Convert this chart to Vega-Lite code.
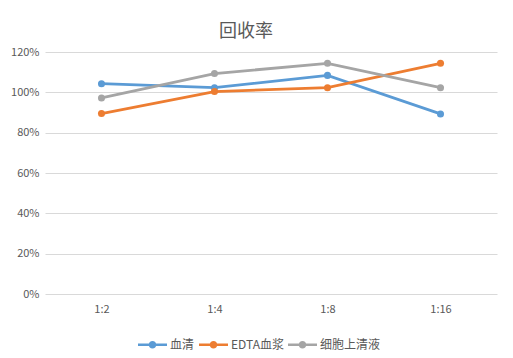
{
  "$schema": "https://vega.github.io/schema/vega-lite/v6.json",
  "width": 452,
  "height": 242,
  "autosize": {"type": "none"},
  "padding": {"left": 45, "top": 52, "right": 16, "bottom": 64},
  "background": "white",
  "title": {
    "text": "回收率",
    "fontSize": 18,
    "font": "Noto Sans CJK SC",
    "fontWeight": "normal",
    "color": "#595959",
    "offset": 5,
    "dx": -25
  },
  "config": {
    "view": {"stroke": null},
    "font": "Noto Sans CJK SC"
  },
  "data": {
    "values": [
      {"series": "血清", "ratio": "1:2", "value": 1.043},
      {"series": "血清", "ratio": "1:4", "value": 1.023},
      {"series": "血清", "ratio": "1:8", "value": 1.084},
      {"series": "血清", "ratio": "1:16", "value": 0.893},
      {"series": "EDTA血浆", "ratio": "1:2", "value": 0.895},
      {"series": "EDTA血浆", "ratio": "1:4", "value": 1.004},
      {"series": "EDTA血浆", "ratio": "1:8", "value": 1.023},
      {"series": "EDTA血浆", "ratio": "1:16", "value": 1.144},
      {"series": "细胞上清液", "ratio": "1:2", "value": 0.972},
      {"series": "细胞上清液", "ratio": "1:4", "value": 1.093},
      {"series": "细胞上清液", "ratio": "1:8", "value": 1.144},
      {"series": "细胞上清液", "ratio": "1:16", "value": 1.023}
    ]
  },
  "mark": {"type": "line", "strokeWidth": 2.8, "point": {"size": 50, "filled": true, "opacity": 1}},
  "encoding": {
    "x": {
      "field": "ratio",
      "type": "ordinal",
      "sort": ["1:2", "1:4", "1:8", "1:16"],
      "scale": {"type": "point", "padding": 0.5},
      "axis": {
        "title": null,
        "labelAngle": 0,
        "domain": false,
        "ticks": false,
        "labelPadding": 9,
        "labelFontSize": 11,
        "labelColor": "#595959",
        "labelFont": "Noto Sans CJK SC"
      }
    },
    "y": {
      "field": "value",
      "type": "quantitative",
      "scale": {"domain": [0, 1.2], "nice": false},
      "axis": {
        "title": null,
        "format": ".0%",
        "values": [0, 0.2, 0.4, 0.6, 0.8, 1.0, 1.2],
        "domain": false,
        "ticks": false,
        "labelPadding": 6,
        "gridColor": "#d9d9d9",
        "gridWidth": 1,
        "labelFontSize": 11,
        "labelColor": "#595959",
        "labelFont": "Noto Sans CJK SC"
      }
    },
    "color": {
      "field": "series",
      "type": "nominal",
      "scale": {
        "domain": ["血清", "EDTA血浆", "细胞上清液"],
        "range": ["#5B9BD5", "#ED7D31", "#A5A5A5"]
      },
      "legend": {
        "title": null,
        "orient": "none",
        "direction": "horizontal",
        "legendX": 93,
        "legendY": 278,
        "symbolType": "M-1,-0.09 L1,-0.09 L1,0.09 L-1,0.09 Z M-0.26,0 A0.26,0.26 0 1,1 0.26,0 A0.26,0.26 0 1,1 -0.26,0 Z",
        "symbolSize": 841,
        "symbolStrokeWidth": 0,
        "labelFontSize": 12,
        "labelColor": "#595959",
        "labelFont": "Noto Sans CJK SC",
        "labelOffset": 3,
        "columnPadding": 4
      }
    }
  }
}
